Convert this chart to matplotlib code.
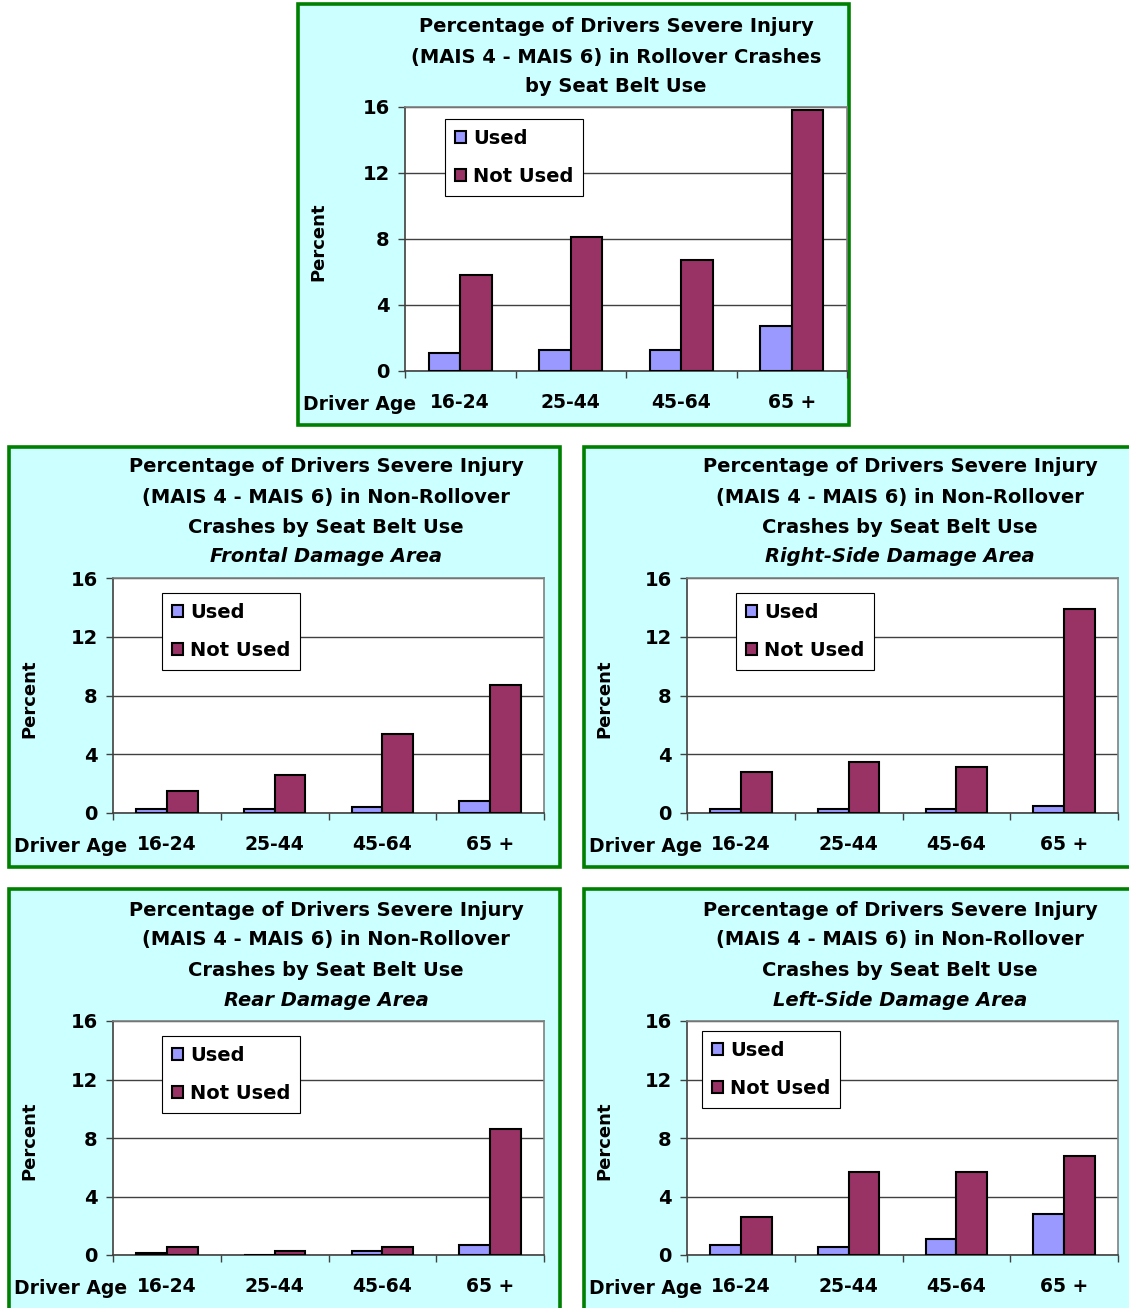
import matplotlib
matplotlib.use("Agg")
import matplotlib.pyplot as plt
from matplotlib.patches import Rectangle
import numpy as np

plt.rcParams['font.family'] = ['DejaVu Sans']
plt.rcParams['font.weight'] = 'bold'

# ---- data -------------------------------------------------------------
ages = ["16-24", "25-44", "45-64", "65 +"]
series_names = ["Used", "Not Used"]
yticks = [0, 4, 8, 12, 16]

rollover_used = [1.1, 1.3, 1.3, 2.7]
rollover_not_used = [5.8, 8.1, 6.7, 15.8]

frontal_used = [0.25, 0.25, 0.4, 0.8]
frontal_not_used = [1.5, 2.6, 5.4, 8.7]

right_used = [0.25, 0.25, 0.25, 0.5]
right_not_used = [2.8, 3.5, 3.1, 13.9]

rear_used = [0.15, 0.0, 0.25, 0.7]
rear_not_used = [0.55, 0.25, 0.55, 8.6]

left_used = [0.7, 0.55, 1.1, 2.8]
left_not_used = [2.6, 5.7, 5.7, 6.8]

title_main = ["Percentage of Drivers Severe Injury",
              "(MAIS 4 - MAIS 6) in Rollover Crashes",
              "by Seat Belt Use"]
title_nonroll = ["Percentage of Drivers Severe Injury",
                 "(MAIS 4 - MAIS 6) in Non-Rollover",
                 "Crashes by Seat Belt Use"]

# ---- layout helpers (pixel based) -------------------------------------
W, H = 1129, 1308
DPI = 100
fig = plt.figure(figsize=(W / DPI, H / DPI), dpi=DPI, facecolor="white")

USED_C = "#9999FF"
NOT_C = "#993366"
BG = "#CCFFFF"
GREEN = "#008000"
FS = 14


def fx(x):
    return x / W


def fy(y):
    return 1 - y / H


def panel(box, plot, used, not_used, title_lines, italic_line, title_cx,
          title_y0, legend_box):
    bx0, by0, bx1, by1 = box
    fig.patches.append(Rectangle((fx(bx0), fy(by1)), fx(bx1 - bx0),
                                 (by1 - by0) / H, transform=fig.transFigure,
                                 facecolor=BG, edgecolor=GREEN, lw=2.6,
                                 zorder=-5))
    px0, py0, px1, py1 = plot
    ax = fig.add_axes([fx(px0), fy(py1), fx(px1 - px0), (py1 - py0) / H])
    ax.set_zorder(2)
    ax.set_facecolor("white")
    x = np.arange(len(ages))
    w = 0.285
    ax.bar(x - w / 2, used, w, color=USED_C, edgecolor="black", lw=1.5,
           label=series_names[0], zorder=3)
    ax.bar(x + w / 2, not_used, w, color=NOT_C, edgecolor="black", lw=1.5,
           label=series_names[1], zorder=3)
    ax.set_xlim(-0.5, len(ages) - 0.5)
    ax.set_ylim(0, 16)
    ax.set_yticks(yticks)
    ax.set_yticklabels([str(t) for t in yticks], fontsize=FS,
                       fontweight="bold")
    ax.tick_params(axis="y", length=5, width=1, color="#404040", pad=6)
    ax.set_xticks(x)
    ax.set_xticklabels(ages, fontsize=FS - 0.5, fontweight="bold")
    ax.tick_params(axis="x", which="major", length=0, pad=16)
    ax.set_xticks(np.arange(-0.5, len(ages)), minor=True)
    ax.tick_params(axis="x", which="minor", length=5, width=1,
                   color="#404040")
    ax.yaxis.grid(True, color="#404040", lw=1, zorder=1)
    ax.set_axisbelow(True)
    for s in ("top", "right"):
        ax.spines[s].set_color("#808080")
        ax.spines[s].set_linewidth(1.2)
    for s in ("left", "bottom"):
        ax.spines[s].set_color("#404040")
        ax.spines[s].set_linewidth(1.2)

    lx0, ly0, lx1, ly1 = legend_box
    leg = ax.legend(loc="upper left",
                    bbox_to_anchor=((lx0 - px0) / (px1 - px0),
                                    (py1 - ly0) / (py1 - py0)),
                    prop={"size": FS, "weight": "bold"},
                    frameon=True, fancybox=False, framealpha=1,
                    edgecolor="black", borderpad=0.5, labelspacing=1.0,
                    handlelength=0.6, handleheight=0.6, handletextpad=0.35,
                    borderaxespad=0)
    leg.get_frame().set_linewidth(0.8)
    leg.set_zorder(5)

    # title lines
    for i, line in enumerate(title_lines):
        fig.text(fx(title_cx), fy(title_y0 + 30 * i), line, ha="center",
                 va="center", fontsize=FS, fontweight="bold")
    if italic_line:
        fig.text(fx(title_cx), fy(title_y0 + 30 * len(title_lines)),
                 italic_line, ha="center", va="center", fontsize=FS,
                 fontweight="bold", fontstyle="italic")

    # axis captions
    fig.text(fx(bx0 + 5), fy(py1 + 33), "Driver Age", ha="left",
             va="center", fontsize=FS - 0.5, fontweight="bold")
    fig.text(fx(bx0 + 20), fy((py0 + py1) / 2 + 3), "Percent", ha="center",
             va="center", rotation=90, fontsize=FS - 1, fontweight="bold")
    return ax


panel((298, 4, 849, 425), (405, 107, 847, 371), rollover_used,
      rollover_not_used, title_main, None, 616, 27, (445, 119, 577, 195))

panel((9, 447, 560, 867), (113, 578, 544, 813), frontal_used,
      frontal_not_used, title_nonroll, "Frontal Damage Area", 326, 467,
      (162, 593, 294, 669))

panel((584, 447, 1140, 867), (687, 578, 1118, 813), right_used,
      right_not_used, title_nonroll, "Right-Side Damage Area", 900, 467,
      (736, 593, 868, 669))

panel((9, 889, 560, 1315), (113, 1021, 544, 1255), rear_used,
      rear_not_used, title_nonroll, "Rear Damage Area", 326, 910,
      (162, 1036, 294, 1112))

panel((584, 889, 1140, 1315), (687, 1021, 1118, 1255), left_used,
      left_not_used, title_nonroll, "Left-Side Damage Area", 900, 910,
      (702, 1031, 834, 1107))

fig.savefig("out.png", dpi=DPI, facecolor="white")
